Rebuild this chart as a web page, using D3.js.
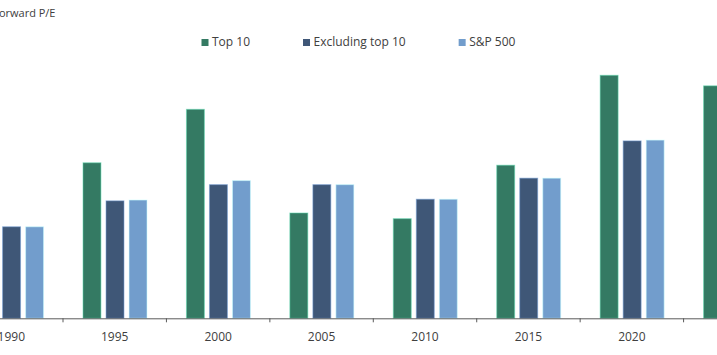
<!DOCTYPE html>
<html>
<head>
<meta charset="utf-8">
<script src="https://cdn.jsdelivr.net/npm/d3@7"></script>
<style>
  html, body { margin: 0; padding: 0; background: #ffffff; }
  svg { display: block; }
  text { font-family: "Open Sans", "Noto Sans", sans-serif; fill: #404040; }
</style>
</head>
<body>
<svg id="chart" width="717" height="355"></svg>
<script>
// ---- data ----
const years = ["1990", "1995", "2000", "2005", "2010", "2015", "2020", "2025"];
const seriesNames = ["Top 10", "Excluding top 10", "S&P 500"];
const top10 = [11.8, 19.2, 25.8, 13.0, 12.3, 18.9, 30.0, 28.7];
const excludingTop10 = [11.3, 14.5, 16.5, 16.5, 14.7, 17.3, 21.9, 18.9];
const sp500 = [11.3, 14.6, 17.0, 16.5, 14.7, 17.3, 22.0, 22.1];
const seriesColors = ["#347a63", "#3f5777", "#729dcc"];
const titleText = "Forward P/E";

// ---- layout ----
const W = 717, H = 355;
const baseY = 318.3;
const svg = d3.select("#chart");
svg.append("rect").attr("width", W).attr("height", H).attr("fill", "#ffffff");

const step = 103.43;
const x0 = d3.scaleBand().domain(years)
  .range([63 - step, 63 - step + years.length * step]).paddingInner(0).paddingOuter(0);

const x1 = d3.scaleBand().domain(seriesNames)
  .range([20, 84]).paddingInner(0.22).paddingOuter(0);

const y = d3.scaleLinear().domain([0, 35]).range([baseY, baseY - 35 * 8.1]);

const values = [top10, excludingTop10, sp500];
const rows = years.map((yr, i) => ({
  year: yr,
  vals: seriesNames.map((s, j) => ({ series: s, value: values[j][i], color: seriesColors[j] }))
}));

const groups = svg.append("g").selectAll("g").data(rows).join("g")
  .attr("transform", d => `translate(${x0(d.year)},0)`);

groups.selectAll("rect").data(d => d.vals).join("rect")
  .attr("x", d => x1(d.series))
  .attr("width", x1.bandwidth())
  .attr("y", d => y(d.value))
  .attr("height", d => baseY - y(d.value))
  .attr("fill", d => d.color)
  .attr("stroke", d => d3.color(d.color).brighter(1.6))
  .attr("stroke-opacity", 0.55)
  .attr("stroke-width", 1);

// ---- x axis ----
const axis = svg.append("g").attr("transform", `translate(0,${baseY})`)
  .call(d3.axisBottom(x0).tickSize(0).tickPadding(14).tickSizeOuter(0));
axis.select(".domain").attr("stroke", "#5a5a5a").attr("stroke-width", 1);
axis.selectAll("text").style("font-size", "12px").attr("fill", "#404040");

// boundary ticks between groups
const bounds = years.slice(1).map(yr => x0(yr));
axis.selectAll("line.bound").data(bounds).join("line")
  .attr("class", "bound")
  .attr("x1", d => d).attr("x2", d => d)
  .attr("y1", 0).attr("y2", 4)
  .attr("stroke", "#5a5a5a").attr("stroke-width", 1);

// ---- title ----
svg.append("text")
  .attr("x", -6.8).attr("y", 17.2)
  .style("font-size", "11px")
  .text(titleText);

// ---- legend ----
const legend = svg.append("g");
let lx = 201.5;
seriesNames.forEach((s, i) => {
  legend.append("rect")
    .attr("x", lx).attr("y", 39).attr("width", 7).attr("height", 7)
    .attr("fill", seriesColors[i]);
  const t = legend.append("text")
    .attr("x", lx + 10.5).attr("y", 46.3)
    .style("font-size", "12px")
    .text(s);
  lx = lx + 10.5 + t.node().getComputedTextLength() + 53;
});
</script>
</body>
</html>
